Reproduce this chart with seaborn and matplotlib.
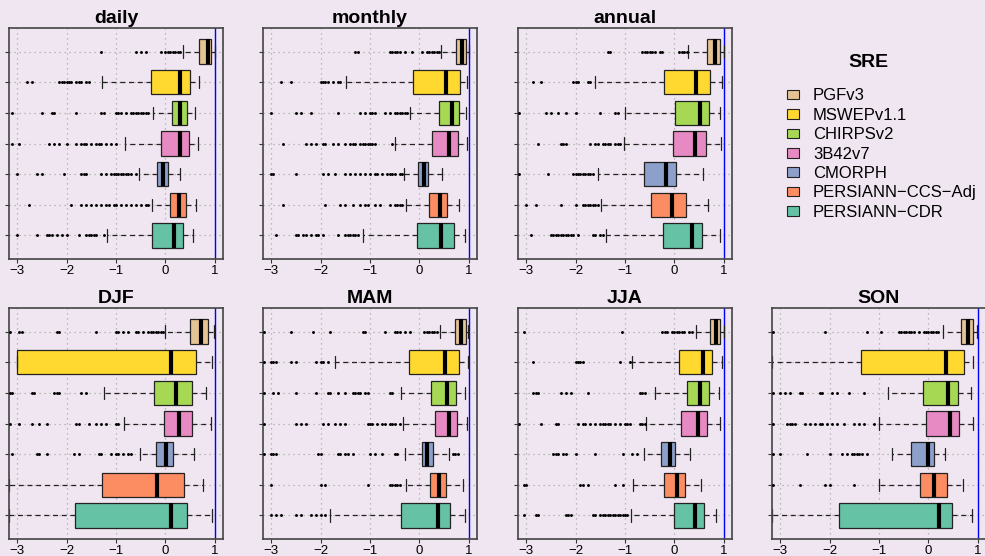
import pandas as pd
import matplotlib
matplotlib.use("Agg")
import matplotlib.pyplot as plt
from matplotlib.patches import Rectangle
import seaborn as sns

# products, top to bottom in every panel
products = ["PGFv3", "MSWEPv1.1", "CHIRPSv2", "3B42v7", "CMORPH",
            "PERSIANN−CCS−Adj", "PERSIANN−CDR"]
panels = ["daily", "monthly", "annual", "DJF", "MAM", "JJA", "SON"]

# box stats per product: lower whisker, Q1, median, Q3, upper whisker
daily_box = [[0.35, 0.68, 0.85, 0.92, 1.00],
             [-1.28, -0.29, 0.30, 0.49, 0.68],
             [-0.26, 0.14, 0.30, 0.43, 0.60],
             [-0.81, -0.09, 0.29, 0.47, 0.66],
             [-0.53, -0.18, -0.05, 0.06, 0.30],
             [-0.27, 0.10, 0.27, 0.41, 0.62],
             [-1.18, -0.27, 0.17, 0.35, 0.56]]
monthly_box = [[0.44, 0.74, 0.85, 0.94, 1.00],
               [-1.49, -0.13, 0.54, 0.81, 0.97],
               [-0.20, 0.39, 0.66, 0.80, 0.94],
               [-0.49, 0.26, 0.60, 0.77, 0.95],
               [-0.32, -0.03, 0.10, 0.17, 0.45],
               [-0.27, 0.20, 0.42, 0.55, 0.80],
               [-1.14, -0.05, 0.43, 0.70, 0.92]]
annual_box = [[0.27, 0.66, 0.82, 0.91, 1.00],
              [-1.60, -0.21, 0.44, 0.71, 0.97],
              [-1.01, 0.01, 0.52, 0.69, 0.91],
              [-1.03, -0.04, 0.42, 0.64, 0.93],
              [-1.55, -0.61, -0.17, 0.03, 0.57],
              [-1.48, -0.47, -0.05, 0.24, 0.68],
              [-1.38, -0.24, 0.36, 0.55, 0.91]]
djf_box = [[0.00, 0.50, 0.72, 0.86, 0.99],
           [-3.00, -3.00, 0.12, 0.62, 0.93],
           [-1.24, -0.23, 0.22, 0.53, 0.81],
           [-0.84, -0.03, 0.28, 0.53, 0.91],
           [-0.52, -0.19, 0.02, 0.16, 0.58],
           [-3.16, -1.29, -0.17, 0.37, 0.76],
           [-3.16, -1.83, 0.12, 0.43, 0.94]]
mam_box = [[0.41, 0.72, 0.83, 0.93, 0.98],
           [-1.70, -0.21, 0.51, 0.79, 0.99],
           [-0.38, 0.24, 0.55, 0.74, 0.91],
           [-0.34, 0.31, 0.59, 0.76, 0.97],
           [-0.29, 0.05, 0.15, 0.27, 0.60],
           [-0.27, 0.21, 0.39, 0.54, 0.88],
           [-1.81, -0.38, 0.37, 0.61, 0.91]]
jja_box = [[0.43, 0.72, 0.84, 0.92, 1.00],
           [-0.85, 0.10, 0.58, 0.76, 0.95],
           [-0.39, 0.26, 0.52, 0.70, 0.89],
           [-0.57, 0.14, 0.48, 0.65, 0.92],
           [-0.61, -0.28, -0.10, 0.02, 0.32],
           [-0.84, -0.21, 0.05, 0.22, 0.53],
           [-0.87, -0.01, 0.41, 0.59, 0.83]]
son_box = [[0.30, 0.66, 0.80, 0.90, 0.98],
           [-3.16, -1.37, 0.35, 0.71, 0.90],
           [-0.81, -0.11, 0.39, 0.60, 0.85],
           [-1.00, -0.05, 0.43, 0.62, 0.89],
           [-0.74, -0.36, -0.01, 0.11, 0.34],
           [-1.00, -0.18, 0.11, 0.38, 0.70],
           [-3.16, -1.81, 0.22, 0.47, 0.87]]

# outliers per product
daily_out = [[-1.3, -0.6, -0.5, -0.4, -0.1, 0.0, 0.05, 0.1, 0.15, 0.2, 0.25, 0.3],
             [-2.8, -2.7, -2.15, -2.1, -2.05, -2.0, -1.95, -1.9, -1.8, -1.75, -1.7, -1.6, -1.55],
             [-3.1, -2.5, -2.3, -2.25, -1.8, -1.3, -1.25, -1.0, -0.95, -0.9, -0.8, -0.7,
              -0.65, -0.6, -0.55, -0.5, -0.45, -0.4, -0.35],
             [-3.1, -2.95, -2.35, -2.25, -2.15, -2.0, -1.8, -1.7, -1.65, -1.6, -1.5, -1.4,
              -1.35, -1.3, -1.2, -1.1, -1.0],
             [-3.0, -2.6, -2.5, -2.05, -1.7, -1.65, -1.6, -1.3, -1.2, -1.1, -1.05, -1.0,
              -0.95, -0.9, -0.85, -0.8, -0.75, -0.7, -0.6],
             [-2.75, -1.9, -1.7, -1.6, -1.5, -1.4, -1.3, -1.2, -1.15, -1.05, -1.0, -0.9,
              -0.8, -0.7, -0.6, -0.5, -0.4, -0.35],
             [-3.0, -2.6, -2.4, -2.35, -2.3, -2.2, -2.1, -2.0, -1.75, -1.6, -1.55, -1.5,
              -1.45, -1.4, -1.25]]
monthly_out = [[-1.3, -1.25, -0.6, -0.55, -0.5, -0.45, -0.4, -0.3, -0.15, 0.05, 0.15, 0.2,
                0.25, 0.3, 0.35, 0.4],
               [-2.8, -2.6, -2.0, -1.95, -1.9, -1.85, -1.75, -1.65, -1.6],
               [-3.0, -2.5, -2.4, -2.2, -1.65, -1.2, -1.1, -1.0, -0.95, -0.9, -0.7, -0.6,
                -0.5, -0.45, -0.4, -0.35, -0.3, -0.25],
               [-2.75, -2.3, -2.2, -2.1, -1.95, -1.9, -1.75, -1.65, -1.5, -1.4, -1.35, -1.3,
                -1.2, -1.15, -1.1, -1.05, -1.0, -0.95, -0.9, -0.55],
               [-3.0, -2.95, -2.5, -1.95, -1.85, -1.7, -1.5, -1.4, -1.3, -1.2, -1.1, -1.0,
                -0.9, -0.85, -0.75, -0.65, -0.6, -0.55, -0.5, -0.4, -0.35],
               [-2.75, -1.9, -1.6, -1.5, -1.35, -1.2, -1.1, -1.05, -0.9, -0.8, -0.6, -0.5,
                -0.45, -0.4, -0.35],
               [-2.9, -2.5, -2.45, -2.35, -2.3, -2.2, -2.1, -2.05, -1.95, -1.65, -1.5, -1.45,
                -1.4, -1.35, -1.3, -1.25]]
annual_out = [[-1.35, -1.3, -0.65, -0.6, -0.55, -0.5, -0.45, -0.4, -0.3, -0.25, 0.1, 0.15,
               0.2, 0.25],
              [-2.85, -2.7, -2.05, -2.0, -1.95, -1.75, -1.7],
              [-3.15, -2.6, -2.5, -2.35, -2.2, -2.0, -1.5, -1.2, -1.15],
              [-2.75, -2.3, -2.25, -2.2, -1.7, -1.6, -1.55, -1.45, -1.4, -1.35, -1.3, -1.2,
               -1.15, -1.1],
              [-3.15, -2.55, -2.05, -2.0, -1.95, -1.9, -1.85, -1.8, -1.75, -1.7, -1.65],
              [-3.0, -2.8, -2.3, -2.0, -1.85, -1.8, -1.75, -1.7, -1.65, -1.6, -1.55],
              [-2.9, -2.5, -2.45, -2.4, -2.35, -2.3, -2.25, -2.2, -2.15, -2.1, -2.05, -1.95,
               -1.65, -1.6, -1.5, -1.45]]
djf_out = [[-3.15, -2.95, -2.9, -2.2, -2.15, -1.4, -1.0, -0.95, -0.85, -0.75, -0.6, -0.55,
            -0.45, -0.35, -0.3, -0.25, -0.2, -0.15, -0.1, -0.05],
           [],
           [-3.15, -3.1, -2.7, -2.65, -2.25, -2.2, -2.15, -1.7, -1.6],
           [-3.15, -2.95, -2.7, -2.55, -2.4, -1.8, -1.75, -1.55, -1.4, -1.3, -1.2, -1.0, -0.95],
           [-3.1, -2.6, -2.55, -2.4, -1.85, -1.75, -1.35, -1.3, -1.1, -1.0, -0.95, -0.85,
            -0.75, -0.7],
           [],
           []]
mam_out = [[-3.15, -2.6, -2.15, -1.8, -1.15, -1.1, -0.7, -0.5, -0.45, -0.4, -0.3, -0.2,
            0.1, 0.15, 0.2, 0.25, 0.3, 0.35],
           [-3.15, -3.0, -2.95, -2.9, -2.6, -2.5, -2.1, -2.0, -1.95, -1.85],
           [-3.15, -2.95, -2.85, -2.5, -2.1, -1.85, -1.8, -1.65, -1.5, -1.35, -1.3, -1.25,
            -1.2, -1.1, -1.05, -0.6, -0.55],
           [-3.15, -2.5, -2.4, -2.3, -1.95, -1.85, -1.7, -1.6, -1.5, -1.05, -1.0, -0.95,
            -0.85, -0.75, -0.7, -0.6, -0.55, -0.5, -0.4],
           [-3.15, -3.0, -2.95, -2.9, -2.05, -2.0, -1.65, -1.6, -1.5, -1.45, -1.35, -1.0,
            -0.9, -0.75, -0.5, -0.45, 0.68, 0.72, 0.78],
           [-3.0, -2.0, -1.9, -1.05, -0.6, -0.55, -0.5, -0.45, -0.4],
           [-3.0, -2.9, -2.8, -2.5, -2.4, -2.2, -2.1, -2.0, -1.9]]
jja_out = [[-3.05, -1.07, -0.25, -0.2, -0.15, -0.05, 0.0, 0.05, 0.1, 0.15, 0.2, 0.3, 0.35],
           [-2.85, -2.0, -1.95, -1.9, -1.85, -1.1, -0.9],
           [-2.85, -2.8, -2.75, -2.3, -2.2, -2.1, -1.75, -0.7, -0.65, -0.6],
           [-3.15, -2.7, -2.4, -2.35, -1.95, -1.85, -1.8, -1.7, -1.6, -1.5, -1.45, -1.4,
            -1.35, -1.3, -1.2, -1.1, -1.0, -0.95, -0.9, -0.7, -0.65, -0.6],
           [-2.45, -2.4, -2.35, -2.25, -2.2, -2.0, -1.6, -1.05, -0.85, -0.75],
           [-3.05, -3.0, -1.9, -1.85, -1.75, -1.2, -1.05],
           [-3.05, -2.8, -2.75, -2.2, -2.15, -2.1, -1.65, -1.6, -1.5, -1.45, -1.4, -1.35,
            -1.3, -1.25, -1.2, -1.15, -1.1, -1.05, -1.0, -0.95]]
son_out = [[-3.15, -2.1, -1.25, -0.95, -0.6, -0.55, -0.5, -0.45, -0.4, -0.35, -0.3, -0.2,
            -0.1, -0.05, 0.0, 0.05, 0.1, 0.15, 0.2],
           [],
           [-3.15, -3.0, -2.9, -2.8, -2.6, -2.55, -2.2, -2.15, -1.95, -1.85, -1.6, -1.3],
           [-3.15, -2.85, -2.8, -2.75, -2.7, -2.5, -2.4, -2.3, -2.2, -2.15, -2.05, -1.95,
            -1.85, -1.7, -1.5, -1.4, -1.3, -1.1],
           [-3.15, -3.0, -2.45, -2.0, -1.75, -1.65, -1.55, -1.5, -1.45, -1.4, -1.35, -1.25],
           [-3.15, -2.6, -2.1, -2.0, -1.5],
           []]

box_stats = dict(zip(panels, [daily_box, monthly_box, annual_box, djf_box,
                              mam_box, jja_box, son_box]))
outliers = dict(zip(panels, [daily_out, monthly_out, annual_out, djf_out,
                             mam_out, jja_out, son_out]))

# long tables for seaborn
box_rows, out_rows = [], []
for p in panels:
    for prod, vals in zip(products, box_stats[p]):
        box_rows += [(p, prod, v) for v in vals]
    for prod, vals in zip(products, outliers[p]):
        out_rows += [(p, prod, v) for v in vals]
box_df = pd.DataFrame(box_rows, columns=["panel", "product", "SRE"])
out_df = pd.DataFrame(out_rows, columns=["panel", "product", "SRE"])

pal = sns.color_palette("Set2", 7)[::-1]
bg = "#F0E6F1"

sns.set_style("ticks")
plt.rcParams["font.family"] = ["Liberation Sans", "DejaVu Sans"]
plt.rcParams["text.color"] = "black"
plt.rcParams["xtick.color"] = "black"
plt.rcParams["ytick.color"] = "black"

W, H = 985, 556
fig = plt.figure(figsize=(W / 100, H / 100), dpi=100, facecolor=bg)

# panel frames in pixels: left, top
frames = {"daily": (9, 28), "monthly": (263, 28), "annual": (518, 28),
          "DJF": (9, 308), "MAM": (263, 308), "JJA": (518, 308), "SON": (772, 308)}
pw, ph = 214, 231

for p in panels:
    l, t = frames[p]
    ax = fig.add_axes([l / W, 1 - (t + ph) / H, pw / W, ph / H])
    ax.set_facecolor(bg)
    sns.boxplot(data=box_df[box_df["panel"] == p], x="SRE", y="product",
                order=products, hue="product", hue_order=products, palette=pal,
                saturation=1, width=0.8, whis=(0, 100), showfliers=False,
                linecolor="#222222", linewidth=0.9, legend=False,
                medianprops=dict(color="black", linewidth=3),
                whiskerprops=dict(linestyle=(0, (4, 3))),
                ax=ax, zorder=2)
    sns.stripplot(data=out_df[out_df["panel"] == p], x="SRE", y="product",
                  order=products, jitter=False, color="black", size=2.1,
                  linewidth=0, ax=ax, zorder=3)
    ax.axvline(1, color="blue", lw=1, zorder=1.5)
    ax.set_xlim(-3.162, 1.162)
    ax.set_ylim(6.77, -0.77)
    ax.set_xticks([-3, -2, -1, 0, 1])
    ax.set_yticks(range(7))
    ax.set_yticklabels([])
    ax.grid(True, linestyle=(0, (1, 3)), color="#a8a8a8", lw=0.9)
    ax.set_axisbelow(True)
    ax.set_xlabel("")
    ax.set_ylabel("")
    ax.tick_params(length=3, width=0.8, color="#333333", labelcolor="black",
                   labelsize=9.5, pad=1.5)
    for s in ax.spines.values():
        s.set_visible(True)
        s.set_color("#444444")
        s.set_linewidth(1.2)
    ax.set_title(p, fontsize=14, fontweight="bold", color="black", pad=3.5)

# legend
fig.text(868 / W, 1 - 66.7 / H, "SRE", ha="center", va="baseline",
         fontsize=14, fontweight="bold", color="black")
for i, (prod, c) in enumerate(zip(products, pal)):
    yc = 94.5 + i * 19.4
    fig.patches.append(Rectangle((787 / W, 1 - (yc + 4.8) / H), 11.5 / W, 9.5 / H,
                                 transform=fig.transFigure, facecolor=c,
                                 edgecolor="#222222", lw=0.8))
    fig.text(813 / W, 1 - (yc + 6) / H, prod, ha="left", va="baseline",
             fontsize=12, color="black")

fig.savefig("out.png", dpi=100, facecolor=bg)
